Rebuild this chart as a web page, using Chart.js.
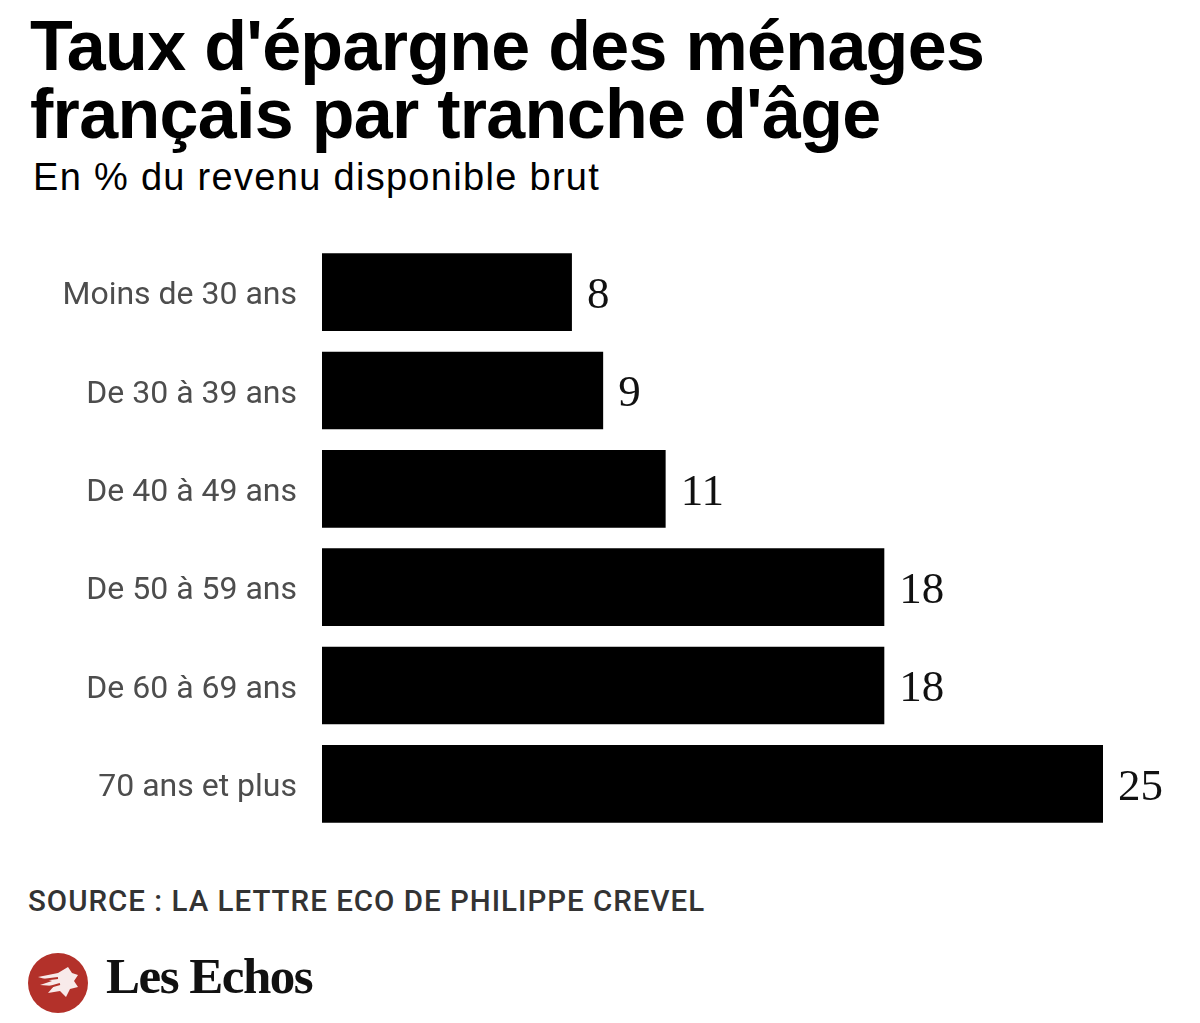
<!DOCTYPE html>
<html lang="fr">
<head>
<meta charset="utf-8">
<title>Taux d'épargne des ménages français par tranche d'âge</title>
<script src="https://cdn.jsdelivr.net/npm/chart.js@4.4.1/dist/chart.umd.min.js"></script>
<style>
  html, body { margin: 0; padding: 0; background: #fff; }
  body { width: 1200px; height: 1023px; position: relative; overflow: hidden; }
  .title {
    position: absolute; left: 30px; top: 12px;
    font: bold 70px/68px "Liberation Sans", Arial, sans-serif;
    color: #000; margin: 0; letter-spacing: -0.7px;
  }
  .subtitle {
    position: absolute; left: 33px; top: 156px;
    font: 38px "Liberation Sans", Arial, sans-serif;
    color: #000; margin: 0; letter-spacing: 1.3px;
  }
  .chart-box { position: absolute; left: 0; top: 243px; width: 1200px; height: 590px; }
  .source {
    position: absolute; left: 28px; top: 884px;
    font: 500 29.5px Roboto, sans-serif; color: #333; margin: 0; letter-spacing: 1px;
  }
  .logo { position: absolute; left: 28px; top: 953px; }
  .logo-text {
    position: absolute; left: 106px; top: 947px;
    font: bold 51px "Liberation Serif", serif; color: #111; letter-spacing: -1.5px;
  }
</style>
</head>
<body>
<h1 class="title">Taux d'épargne des ménages<br>français par tranche d'âge</h1>
<p class="subtitle">En % du revenu disponible brut</p>

<div class="chart-box"><canvas id="chart_epargne" width="1200" height="590"></canvas></div>

<p class="source">SOURCE : LA LETTRE ECO DE PHILIPPE CREVEL</p>

<svg class="logo" width="60" height="60" viewBox="0 0 60 60">
  <circle cx="30" cy="30" r="30" fill="#b3312a"/>
  <path d="M10 24 L30 20 L40 14 L44 20 L50 22 L46 28 L50 34 L42 36 L38 44 L32 38 L20 40 L26 33 L12 32 L24 28 Z" fill="#fff" opacity="0.9"/>
  <path d="M14 27 L30 25 M18 35 L32 31" stroke="#b3312a" stroke-width="2"/>
</svg>
<div class="logo-text">Les Echos</div>

<script>
// tranches d'age et taux d'epargne (% du revenu disponible brut)
const ageGroups = [
    "Moins de 30 ans",
    "De 30 à 39 ans",
    "De 40 à 49 ans",
    "De 50 à 59 ans",
    "De 60 à 69 ans",
    "70 ans et plus"
];
const savingsRates = [8, 9, 11, 18, 18, 25];
const axisMax = 25;

// draws the value right after each bar
const valueLabels = {
    id: "valueLabels",
    afterDatasetsDraw(chart) {
        const ctx = chart.ctx;
        const meta = chart.getDatasetMeta(0);
        ctx.save();
        ctx.font = '45px "Liberation Serif", serif';
        ctx.fillStyle = "#111";
        ctx.textAlign = "left";
        ctx.textBaseline = "middle";
        meta.data.forEach((bar, i) => {
            ctx.fillText(String(savingsRates[i]), bar.x + 15, bar.y + 4);
        });
        ctx.restore();
    }
};

const ctx = document.getElementById("chart_epargne").getContext("2d");

new Chart(ctx, {
    type: "bar",
    data: {
        labels: ageGroups,
        datasets: [{
            data: savingsRates,
            backgroundColor: "#000",
            borderWidth: 0,
            categoryPercentage: 1,
            barPercentage: 0.79
        }]
    },
    options: {
        indexAxis: "y",
        responsive: false,
        animation: false,
        layout: { padding: { left: 0, right: 97, top: 0, bottom: 0 } },
        plugins: {
            legend: { display: false },
            tooltip: { enabled: false }
        },
        scales: {
            x: {
                display: false,
                min: 0,
                max: axisMax
            },
            y: {
                grid: { display: false, drawTicks: false },
                border: { display: false },
                ticks: {
                    padding: 25,
                    labelOffset: 4,
                    color: "#4d4d4d",
                    font: { family: "Roboto", size: 32 }
                },
                afterFit(scale) {
                    // keep the full box height for the bars
                    scale.width = 322;
                    scale.paddingTop = 0;
                    scale.paddingBottom = 0;
                }
            }
        }
    },
    plugins: [valueLabels]
});
</script>
</body>
</html>
